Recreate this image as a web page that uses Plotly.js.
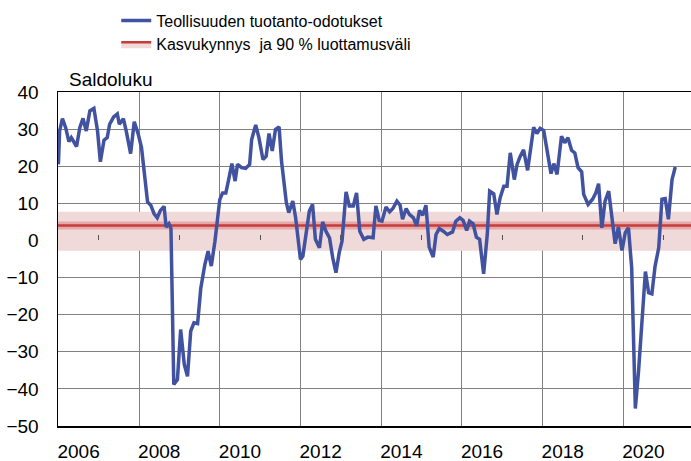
<!DOCTYPE html>
<html>
<head>
<meta charset="utf-8">
<script src="https://cdn.plot.ly/plotly-3.0.1.min.js"></script>
<style>html,body{margin:0;padding:0;background:#fff;}</style>
</head>
<body>
<div id="chart" style="width:691px;height:461px;"></div>
<script>
// Teollisuuden tuotanto-odotukset (saldoluku), decimal years
const seriesYears = [
 2006.0,2006.03,2006.1,2006.18,2006.26,2006.32,2006.37,2006.45,2006.53,2006.61,2006.69,2006.78,2006.88,2006.97,
 2007.04,2007.13,2007.21,2007.27,2007.37,2007.46,2007.51,2007.61,2007.68,2007.79,2007.88,2007.98,
 2008.06,2008.12,2008.21,2008.29,2008.37,2008.45,2008.53,2008.62,2008.67,2008.74,2008.79,2008.86,2008.95,
 2009.03,2009.12,2009.2,2009.28,2009.36,2009.45,2009.53,2009.63,2009.71,2009.79,2009.88,2009.95,
 2010.0,2010.07,2010.15,2010.23,2010.3,2010.38,2010.44,2010.54,2010.64,2010.74,2010.79,2010.89,2010.97,
 2011.07,2011.15,2011.22,2011.3,2011.38,2011.47,2011.53,2011.59,2011.65,2011.71,2011.81,2011.88,2011.94,
 2012.0,2012.06,2012.14,2012.22,2012.3,2012.37,2012.47,2012.55,2012.63,2012.72,2012.8,2012.88,2012.96,
 2013.03,2013.13,2013.21,2013.31,2013.39,2013.47,2013.57,2013.67,2013.8,2013.87,2013.95,
 2014.02,2014.12,2014.21,2014.29,2014.39,2014.47,2014.53,2014.62,2014.7,2014.8,2014.88,2014.95,
 2015.03,2015.11,2015.19,2015.29,2015.36,2015.44,2015.54,2015.64,2015.77,2015.85,2015.95,
 2016.03,2016.12,2016.19,2016.28,2016.36,2016.44,2016.54,2016.63,2016.69,2016.79,2016.87,2016.95,
 2017.04,2017.12,2017.2,2017.3,2017.37,2017.44,2017.53,2017.63,2017.71,2017.78,2017.86,2017.94,
 2018.03,2018.12,2018.21,2018.28,2018.36,2018.47,2018.55,2018.63,2018.72,2018.8,2018.88,2018.97,
 2019.02,2019.13,2019.24,2019.32,2019.39,2019.47,2019.55,2019.64,2019.72,2019.8,2019.88,2019.97,
 2020.05,2020.13,2020.21,2020.3,2020.38,2020.46,2020.55,2020.63,2020.71,2020.79,2020.88,2020.96,
 2021.04,2021.12,2021.21,2021.29
];
const seriesValues = [
 20.5,29.5,32.8,30.4,26.6,27.7,26.8,25.3,30.4,32.9,29.5,34.9,35.6,29.5,
 21.2,27.0,27.7,31.3,33.3,34.1,31.3,32.8,29.5,23.4,32.0,28.6,
 25.0,19.6,10.4,9.5,7.2,6.1,8.1,9.2,3.6,4.5,3.2,-38.8,-37.5,
 -24.0,-33.4,-36.6,-24.4,-22.2,-22.4,-12.8,-6.5,-2.9,-6.9,-0.2,7.0,
 11.0,12.8,12.8,16.9,20.7,16.0,20.5,19.6,19.4,20.5,27.2,31.1,27.7,
 21.8,22.7,28.8,24.1,29.9,30.6,21.4,15.1,10.2,7.5,10.6,6.1,-0.2,
 -5.1,-4.2,1.6,7.9,9.7,0.3,-2.0,5.0,2.5,0.7,-4.7,-8.7,-3.3,
 -0.2,13.1,9.3,9.3,12.8,2.5,0.3,0.9,0.7,9.3,5.4,
 5.2,9.0,7.7,8.6,10.6,9.5,5.7,8.6,7.0,6.1,3.9,8.1,
 6.8,9.5,-1.8,-4.5,1.6,3.2,2.5,1.6,2.3,5.2,6.1,
 5.4,2.7,5.2,4.5,0.9,0.3,-9.0,1.6,13.3,12.6,7.0,11.5,
 14.6,14.6,23.6,16.4,20.5,22.5,24.4,18.9,24.5,30.5,28.8,30.2,
 29.6,24.1,18.0,20.7,17.8,28.1,26.3,27.7,24.3,23.6,19.6,18.5,
 12.4,9.7,11.1,12.8,15.3,3.4,10.6,13.3,6.6,-0.9,3.6,-2.7,
 2.1,3.4,-7.4,-45.3,-35.2,-20.8,-8.4,-14.1,-14.4,-6.9,-2.0,11.1,
 11.3,5.7,16.4,19.8
];
// Growth threshold and its 90 % confidence interval
const threshold = 4.0;
const bandUpper = 7.7;
const bandLower = -2.8;
const bandYears = [2005.99, 2021.68];
// Axis ticks
const yearLabels = ['2006','2008','2010','2012','2014','2016','2018','2020'];
const yearLabelPos = [2006.5,2008.5,2010.5,2012.5,2014.5,2016.5,2018.5,2020.5];
const yearGrid = [2008,2010,2012,2014,2016,2018,2020];
const oddYearTicks = [2007,2009,2011,2013,2015,2017,2019,2021];
const seriesName = 'Teollisuuden tuotanto-odotukset';
const bandName = 'Kasvukynnys  ja 90 % luottamusväli';
const yTitle = 'Saldoluku';

const BLUE = '#4152a0';
const RED = '#c63b3b';
const PINK = '#f0d9d9';
const GRID = '#808080';
const FONT = 'Liberation Sans, Arial, sans-serif';

const traces = [
  {x: bandYears, y: bandYears.map(() => bandLower), mode: 'lines', line: {width: 0, color: PINK},
   showlegend: false, hoverinfo: 'skip', legendgroup: 'b0'},
  {x: bandYears, y: bandYears.map(() => bandUpper), mode: 'lines', line: {width: 0, color: PINK},
   fill: 'tonexty', fillcolor: PINK, showlegend: false, hoverinfo: 'skip', legendgroup: 'b1'},
  {x: bandYears, y: bandYears.map(() => threshold), mode: 'lines',
   line: {width: 8, color: 'rgba(220,130,130,0.55)'}, showlegend: false, hoverinfo: 'skip', legendgroup: 'b2'},
  {x: bandYears, y: bandYears.map(() => threshold), mode: 'lines', name: bandName,
   line: {width: 2.5, color: RED}, fill: 'tonexty', fillcolor: PINK, legendrank: 2, legendgroup: 'g2'},
  {x: seriesYears, y: seriesValues, xaxis: 'x3', mode: 'lines', name: seriesName,
   line: {width: 3.5, color: BLUE}, legendrank: 1, legendgroup: 'g1'}
];

const xr = [bandYears[0], bandYears[1]];
const layout = {
  width: 691, height: 461,
  margin: {l: 58, r: 0, t: 92, b: 35},
  paper_bgcolor: '#fff', plot_bgcolor: '#fff',
  font: {family: FONT, size: 19, color: '#000'},
  showlegend: true,
  legend: {x: 0.092, y: 1.265, xanchor: 'left', yanchor: 'top', orientation: 'v',
           traceorder: 'normal', font: {family: FONT, size: 16, color: '#000'},
           bgcolor: 'rgba(0,0,0,0)', tracegroupgap: 5, itemwidth: 30},
  xaxis: {range: xr, tickmode: 'array', tickvals: yearLabelPos, ticktext: yearLabels,
          ticks: '', showgrid: false, zeroline: false, showline: true, mirror: true,
          linecolor: '#000', linewidth: 1.5, tickfont: {size: 19}, ticklabelstandoff: 8,
          minor: {tickmode: 'array', tickvals: yearGrid, showgrid: true, gridcolor: GRID,
                  gridwidth: 1, ticks: ''}},
  xaxis3: {range: xr, overlaying: 'x', anchor: 'free', position: 50/90, side: 'top',
           tickmode: 'array', tickvals: oddYearTicks, ticks: 'outside', ticklen: 5,
           tickwidth: 1, tickcolor: '#555', showticklabels: false, showgrid: false,
           zeroline: false, showline: false},
  yaxis: {range: [-50, 40], dtick: 10, tick0: 0, showgrid: true, gridcolor: GRID, gridwidth: 1,
          zeroline: true, zerolinecolor: '#555', zerolinewidth: 1,
          showline: true, linecolor: '#000', linewidth: 1.5, ticks: '',
          tickfont: {size: 19}, ticklabelstandoff: 14},
  annotations: [{text: yTitle, xref: 'paper', yref: 'paper', x: 9/633, y: 1 + 12/334,
                 xanchor: 'left', yanchor: 'middle', showarrow: false,
                 font: {family: FONT, size: 19, color: '#000'}}]
};

Plotly.newPlot('chart', traces, layout, {displayModeBar: false, staticPlot: true});
</script>
</body>
</html>
